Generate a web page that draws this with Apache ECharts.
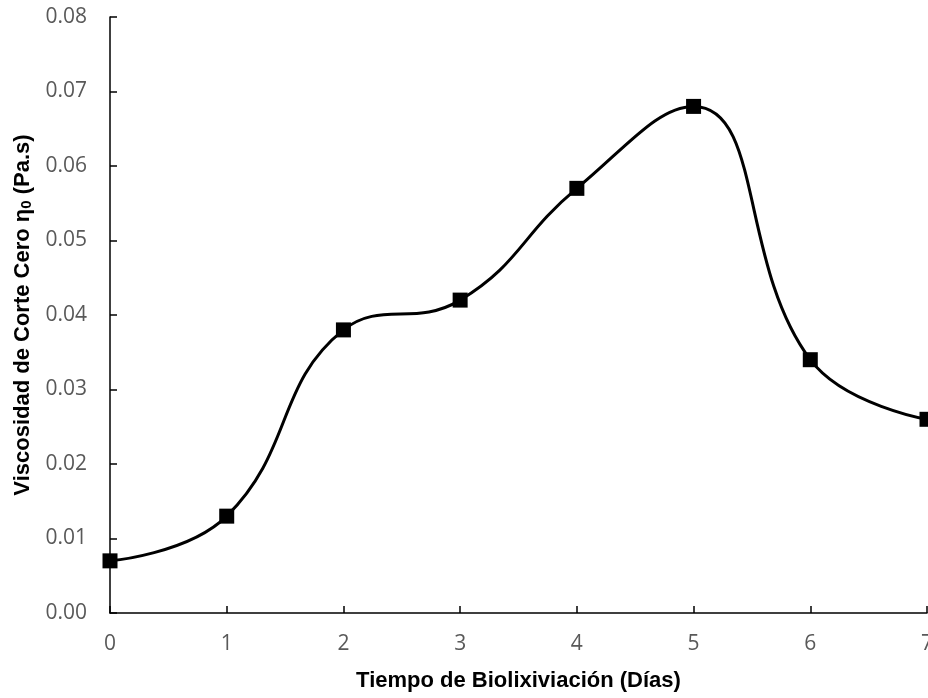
<!DOCTYPE html>
<html>
<head>
<meta charset="utf-8">
<script src="https://cdn.jsdelivr.net/npm/echarts@6/dist/echarts.min.js"></script>
<style>
  html, body { margin: 0; padding: 0; background: #fff; }
  #chart { width: 928px; height: 698px; }
</style>
</head>
<body>
<div id="chart"></div>
<script>
// Zero-shear viscosity over bioleaching time
const days = [0, 1, 2, 3, 4, 5, 6, 7];
const viscosity = [0.007, 0.013, 0.038, 0.042, 0.057, 0.068, 0.034, 0.026];

const points = days.map((d, i) => [d, viscosity[i]]);

const chart = echarts.init(document.getElementById('chart'), null, { renderer: 'canvas' });

const tickLabel = { color: '#595959', fontSize: 21, fontFamily: 'Open Sans' };
const axisTitle = { color: '#000', fontSize: 22, fontWeight: 'bold', fontFamily: 'Liberation Sans' };

chart.setOption({
  animation: false,
  backgroundColor: '#ffffff',
  grid: { left: 110, right: 1, top: 17, bottom: 85, containLabel: false, outerBoundsMode: 'none' },
  xAxis: {
    type: 'value',
    min: 0, max: 7, interval: 1,
    name: 'Tiempo de Biolixiviación (Días)',
    nameLocation: 'middle',
    nameGap: 57,
    nameTextStyle: axisTitle,
    axisLine: { lineStyle: { color: '#000', width: 1.5 } },
    axisTick: { inside: true, length: 7, lineStyle: { color: '#000', width: 1.5 } },
    axisLabel: Object.assign({ margin: 21 }, tickLabel),
    splitLine: { show: false }
  },
  yAxis: {
    type: 'value',
    min: 0, max: 0.08, interval: 0.01,
    name: '{a|Viscosidad de Corte Cero η}{s|0}{a| (Pa.s)}',
    nameLocation: 'middle',
    nameGap: 76,
    nameRotate: 90,
    nameTextStyle: {
      rich: {
        a: axisTitle,
        s: { color: '#000', fontSize: 15, fontWeight: 'bold', fontFamily: 'Liberation Sans', padding: [8, 0, 0, 0] }
      }
    },
    axisLine: { show: true, lineStyle: { color: '#000', width: 1.5 } },
    axisTick: { show: true, inside: true, length: 7, lineStyle: { color: '#000', width: 1.5 } },
    axisLabel: Object.assign({ margin: 23, formatter: v => v.toFixed(2) }, tickLabel),
    splitLine: { show: false }
  },
  series: [{
    type: 'line',
    data: points,
    smooth: 0.45,
    clip: false,
    symbol: 'rect',
    symbolSize: 15,
    itemStyle: { color: '#000' },
    lineStyle: { color: '#000', width: 3 }
  }]
});
</script>
</body>
</html>
